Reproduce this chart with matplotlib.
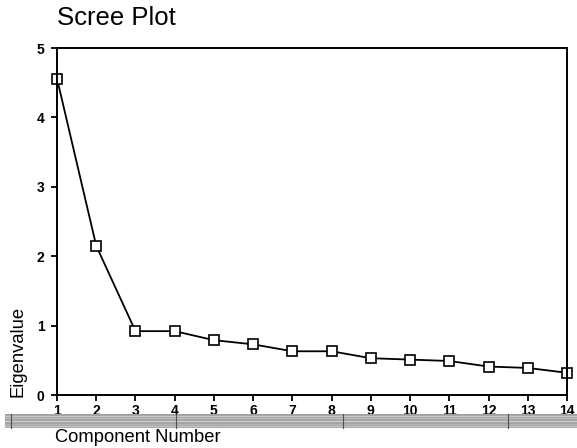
import matplotlib.pyplot as plt
from matplotlib.patches import Rectangle
from matplotlib.lines import Line2D

# scree plot values
components = list(range(1, 15))
eigenvalues = [4.56, 2.15, 0.92, 0.92, 0.79, 0.73, 0.63, 0.63, 0.53, 0.51, 0.49, 0.41, 0.39, 0.32]
y_ticks = [0, 1, 2, 3, 4, 5]

plt.rcParams['font.family'] = ['Liberation Sans', 'DejaVu Sans']

fig = plt.figure(figsize=(5.77, 4.48), dpi=100)
ax = fig.add_axes([57 / 577, 1 - 395 / 448, 510 / 577, 347 / 448])

ax.plot(components, eigenvalues, color='black', lw=1.3, marker='s', markersize=6.5,
        markerfacecolor='white', markeredgecolor='black', markeredgewidth=1.2, clip_on=False)

ax.set_xlim(1, 14)
ax.set_ylim(0, 5)
ax.set_xticks(components)
ax.set_yticks(y_ticks)
ax.tick_params(direction='out', length=4, width=1.3, labelsize=10)
ax.tick_params(axis='x', pad=2.5)
ax.tick_params(axis='y', pad=5)
for lab in ax.get_xticklabels() + ax.get_yticklabels():
    lab.set_fontweight('bold')
for s in ax.spines.values():
    s.set_linewidth(1.4)

fig.text(57 / 577, 1 - 18 / 448, 'Scree Plot', fontsize=18.5, ha='left', va='center')
fig.text(18 / 577, 1 - 397 / 448, 'Eigenvalue', fontsize=13.2, rotation=90, ha='center', va='bottom')
fig.text(55 / 577, 1 - 437 / 448, 'Component Number', fontsize=13.2, ha='left', va='center')

# grey strip under the axis (scrollbar-like band in the original)
y0, y1 = 1 - 428 / 448, 1 - 414 / 448
fig.patches.append(Rectangle((5 / 577, y0), 572 / 577, y1 - y0, transform=fig.transFigure,
                             facecolor='#a0a0a0', edgecolor='none'))
for frac, col in [(0.12, '#c8c8c8'), (0.3, '#b4b4b4'), (0.5, '#cccccc'), (0.7, '#bcbcbc'), (0.88, '#c6c6c6')]:
    yy = y0 + frac * (y1 - y0)
    fig.lines.append(Line2D([5 / 577, 1], [yy, yy], transform=fig.transFigure, color=col, lw=1.0))
for xp in [11, 176, 343, 508]:
    fig.lines.append(Line2D([xp / 577, xp / 577], [y0, y1], transform=fig.transFigure, color='#505050', lw=0.8))

fig.savefig('out.png', dpi=100)
